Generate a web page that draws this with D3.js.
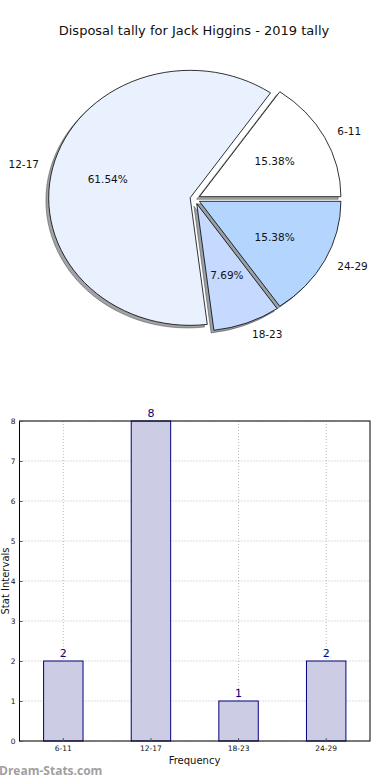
<!DOCTYPE html>
<html><head><meta charset="utf-8">
<script src="https://cdn.jsdelivr.net/npm/d3@7"></script>
<style>html,body{margin:0;padding:0;background:#fff;}svg{display:block;font-family:"DejaVu Sans",sans-serif;}</style>
</head><body>
<script>
const categories = ["6-11", "12-17", "18-23", "24-29"];
const counts = [2, 8, 1, 2];
const pieColors = ["#ffffff", "#eaf1fe", "#c6d9fe", "#b4d5fe"];
const yTicks = [0, 1, 2, 3, 4, 5, 6, 7, 8];
const title = "Disposal tally for Jack Higgins - 2019 tally";

const W = 390, H = 780;
const svg = d3.select("body").append("svg").attr("width", W).attr("height", H);

svg.append("text").attr("x", 194).attr("y", 35).attr("text-anchor", "middle")
  .attr("font-size", 13).attr("fill", "#111").text(title);

// ---------- Pie ----------
const cx = 195, cy = 199, rx = 141.5, ry = 127.5, explode = 5;
const total = d3.sum(counts);
const pie = d3.pie().sort(null).startAngle(Math.PI / 2).endAngle(Math.PI / 2 - 2 * Math.PI);
const arcs = pie(counts);
const arcGen = d3.arc().innerRadius(0).outerRadius(1);
const gPie = svg.append("g");

function midInfo(a) {
  const m = (a.startAngle + a.endAngle) / 2; // d3 angle: 0 = up, clockwise
  return { c: Math.sin(m), s: -Math.cos(m) }; // screen dx, dy unit
}

// shadows first
arcs.forEach((a, i) => {
  const mi = midInfo(a);
  const ox = cx + explode * mi.c - 2.8, oy = cy + explode * mi.s + 2.6;
  const col = d3.rgb(pieColors[i]);
  const sc = d3.rgb(col.r * 0.3, col.g * 0.3, col.b * 0.3);
  gPie.append("path").attr("d", arcGen(a))
    .attr("transform", `translate(${ox},${oy}) scale(${rx},${ry})`)
    .attr("fill", sc).attr("fill-opacity", 0.5)
    .attr("stroke", sc).attr("stroke-opacity", 0.5)
    .attr("stroke-width", 1).attr("vector-effect", "non-scaling-stroke");
});
arcs.forEach((a, i) => {
  const mi = midInfo(a);
  const ox = cx + explode * mi.c, oy = cy + explode * mi.s;
  gPie.append("path").attr("d", arcGen(a))
    .attr("transform", `translate(${ox},${oy}) scale(${rx},${ry})`)
    .attr("fill", pieColors[i]).attr("stroke", "#000")
    .attr("stroke-width", 0.8).attr("vector-effect", "non-scaling-stroke");
  const lx = ox + 1.1 * rx * mi.c, ly = oy + 1.1 * ry * mi.s;
  gPie.append("text").attr("x", lx).attr("y", ly).attr("dy", "0.35em")
    .attr("text-anchor", mi.c > 0 ? "start" : "end")
    .attr("font-size", 10.5).attr("fill", "#111").text(categories[i]);
  const px = ox + 0.6 * rx * mi.c, py = oy + 0.6 * ry * mi.s;
  gPie.append("text").attr("x", px).attr("y", py).attr("dy", "0.35em")
    .attr("text-anchor", "middle").attr("font-size", 10.5).attr("fill", "#111")
    .text((counts[i] / total * 100).toFixed(2) + "%");
});

// ---------- Bar chart ----------
const L = 19.5, R = 370, T = 421, B = 741;
const x = d3.scaleBand().domain(categories).range([L, R]).paddingInner(0).paddingOuter(0);
const y = d3.scaleLinear().domain([0, 8]).range([B, T]);
const bw = x.bandwidth() * 0.45;
const g = svg.append("g");

g.selectAll(".hg").data(yTicks).join("line")
  .attr("x1", L).attr("x2", R).attr("y1", d => y(d)).attr("y2", d => y(d))
  .attr("stroke", "#b8b8b8").attr("stroke-width", 1).attr("stroke-dasharray", "1,2");
g.selectAll(".vg").data(categories).join("line")
  .attr("x1", d => x(d) + x.bandwidth() / 2).attr("x2", d => x(d) + x.bandwidth() / 2)
  .attr("y1", T).attr("y2", B)
  .attr("stroke", "#b8b8b8").attr("stroke-width", 1).attr("stroke-dasharray", "1,2");

g.selectAll(".bar").data(counts).join("rect")
  .attr("x", (d, i) => x(categories[i]) + x.bandwidth() / 2 - bw / 2)
  .attr("width", bw)
  .attr("y", d => y(d)).attr("height", d => B - y(d))
  .attr("fill", "#ccccE5").attr("stroke", "#000080").attr("stroke-width", 1);

g.selectAll(".vl").data(counts).join("text")
  .attr("x", (d, i) => x(categories[i]) + x.bandwidth() / 2)
  .attr("y", d => y(d) - 4)
  .attr("text-anchor", "middle").attr("font-size", 11).attr("fill", "#000080")
  .text(d => d);

g.append("rect").attr("x", L).attr("y", T).attr("width", R - L).attr("height", B - T)
  .attr("fill", "none").attr("stroke", "#000").attr("stroke-width", 1);

const yAxis = d3.axisLeft(y).tickValues(yTicks).tickSize(-3).tickPadding(4);
const ya = g.append("g").attr("transform", `translate(${L},0)`).call(yAxis);
ya.select(".domain").remove();
ya.selectAll("text").attr("font-size", 7.5).attr("fill", "#111").attr("font-family", "DejaVu Sans");
ya.selectAll("line").attr("stroke", "#555");

const xAxis = d3.axisBottom(x).tickSize(-3).tickPadding(5);
const xa = g.append("g").attr("transform", `translate(0,${B})`).call(xAxis);
xa.select(".domain").remove();
xa.selectAll("text").attr("font-size", 7.5).attr("fill", "#111").attr("font-family", "DejaVu Sans");
xa.selectAll("line").attr("stroke", "#555");

svg.append("text").attr("x", 194.5).attr("y", 764).attr("text-anchor", "middle")
  .attr("font-size", 10).attr("fill", "#111").text("Frequency");
svg.append("text").attr("transform", "translate(8.5,581) rotate(-90)").attr("text-anchor", "middle")
  .attr("font-size", 10).attr("fill", "#111").text("Stat Intervals");

svg.append("text").attr("x", -1).attr("y", 775).attr("font-size", 12).attr("font-weight", "bold")
  .attr("fill", "#a0a0a0").attr("font-family", "Open Sans, DejaVu Sans").text("Dream-Stats.com");
</script>
</body></html>
